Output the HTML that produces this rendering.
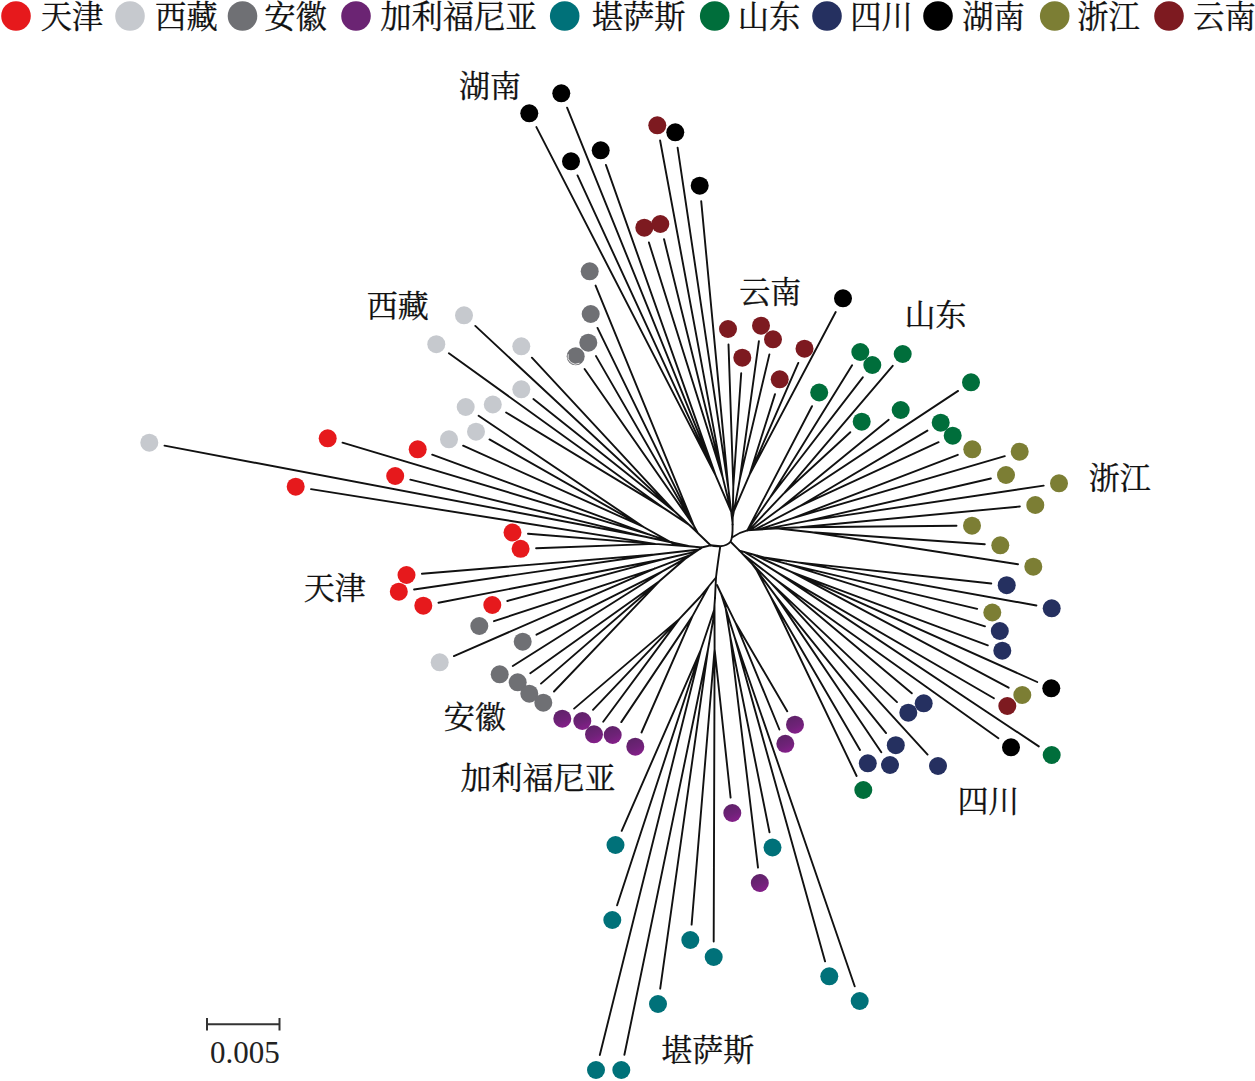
<!DOCTYPE html>
<html><head><meta charset="utf-8"><title>Phylogenetic tree</title>
<style>html,body{margin:0;padding:0;background:#fff;}body{width:1255px;height:1081px;overflow:hidden;font-family:"Liberation Serif",serif;}svg{display:block}</style>
</head><body>
<svg width="1255" height="1081" viewBox="0 0 1255 1081">
<rect width="1255" height="1081" fill="#fff"/>
<g fill="none" stroke="#111" stroke-width="1.9" stroke-linecap="round" stroke-linejoin="round"><path d="M732.2 514.0L715.6 475.4M715.6 475.4L536.4 127.1M715.6 475.4L577.5 175.4M715.6 475.4L567.1 107.7M715.6 475.4L605.9 164.9M732.3 516.1L722.7 477.3M722.7 477.3L648.9 242.5M722.7 477.3L664.0 239.1M722.7 477.3L660.1 140.5M732.5 522.4L728.4 488.7M728.4 488.7L677.6 147.6M728.4 488.7L701.2 201.1M732.6 524.5L733.3 486.5M733.3 486.5L728.5 344.5M733.3 486.5L741.2 373.2M732.4 519.2L739.7 479.9M739.7 479.9L758.9 341.1M739.7 479.9L769.4 354.4M732.2 515.0L749.6 474.6M749.6 474.6L775.0 394.1M749.6 474.6L798.3 362.9M749.6 474.6L835.7 312.0M732.6 524.5L732.2 514.0M764.0 557.5L797.6 562.4M797.6 562.4L991.3 583.5M797.6 562.4L1036.4 605.5M757.9 555.8L786.8 563.8M786.8 563.8L977.2 608.9M786.8 563.8L985.0 626.3M751.8 554.0L791.9 572.1M791.9 572.1L987.8 645.3M791.9 572.1L1037.2 682.0M791.9 572.1L1008.6 687.7M744.4 552.0L778.4 573.1M778.4 573.1L993.9 698.2M778.4 573.1L1038.8 746.4M742.6 553.9L777.4 580.8M777.4 580.8L998.4 738.3M777.4 580.8L911.8 693.3M747.2 558.8L771.1 583.1M771.1 583.1L897.0 702.1M771.1 583.1L927.6 754.6M751.9 563.7L775.7 595.9M775.7 595.9L886.1 733.1M775.7 595.9L881.3 752.2M755.0 567.0L770.9 597.0M770.9 597.0L860.0 749.9M770.9 597.0L856.6 776.0M739.5 550.6L764.0 557.5M739.5 550.6L755.0 567.0M690.0 525.5L665.0 508.9M665.0 508.9L506.1 412.5M665.0 508.9L448.9 353.3M694.1 529.5L675.0 511.8M675.0 511.8L533.4 399.0M675.0 511.8L475.3 325.9M675.0 511.8L531.9 357.7M697.8 533.0L694.0 526.0M694.0 526.0L584.6 369.0M694.0 526.0L596.0 356.1M694.0 526.0L597.5 327.9M694.0 526.0L595.6 285.6M710.5 545.3L690.0 525.5M685.0 559.0L659.3 581.3M659.3 581.3L554.0 691.5M659.3 581.3L541.0 683.6M659.3 581.3L530.3 673.3M688.1 556.9L662.0 571.7M662.0 571.7L512.8 666.0M662.0 571.7L536.5 634.7M692.0 554.3L654.6 568.6M654.6 568.6L453.9 656.1M654.6 568.6L494.0 621.2M695.9 551.6L662.7 559.3M662.7 559.3L507.3 601.0M662.7 559.3L438.5 602.7M699.0 549.5L655.2 554.5M655.2 554.5L414.1 589.5M655.2 554.5L421.9 573.7M700.5 548.5L685.0 559.0M695.0 546.8L655.1 543.9M655.1 543.9L536.1 548.2M655.1 543.9L528.0 533.7M655.1 543.9L311.0 489.1M688.3 546.0L645.3 536.8M645.3 536.8L164.5 445.6M645.3 536.8L410.3 479.7M681.6 545.3L649.4 534.6M649.4 534.6L342.5 442.7M649.4 534.6L432.2 454.7M675.0 544.6L643.6 527.0M643.6 527.0L463.1 445.7M643.6 527.0L489.5 439.4M643.6 527.0L478.6 415.7M701.6 547.5L675.0 544.6M708.8 586.3L692.5 616.1M692.5 616.1L641.5 732.5M692.5 616.1L621.3 722.1M700.0 597.0L679.4 618.9M679.4 618.9L603.2 721.8M679.4 618.9L593.0 709.8M679.4 618.9L574.1 708.6M716.0 577.5L700.0 597.0M714.5 605.0L714.6 649.0M714.6 649.0L730.6 797.6M714.6 649.0L713.7 941.5M714.6 649.0L691.6 924.6M713.5 618.0L708.0 649.5M708.0 649.5L660.2 988.7M708.0 649.5L624.4 1054.8M714.1 610.0L700.8 649.8M700.8 649.8L599.8 1055.0M700.8 649.8L617.1 905.3M700.8 649.8L621.7 830.8M715.0 598.0L713.5 618.0M718.1 587.4L735.8 623.3M735.8 623.3L787.2 711.3M735.8 623.3L779.4 729.5M721.1 593.8L734.8 637.7M734.8 637.7L854.7 986.3M734.8 637.7L825.1 961.4M724.5 601.0L730.2 636.5M730.2 636.5L769.5 832.3M730.2 636.5L758.0 867.6M717.0 585.0L724.5 601.0M747.3 530.4L812.0 406.2M747.3 530.4L770.1 497.5M770.1 497.5L852.1 365.2M770.1 497.5L862.8 377.3M748.7 530.3L784.6 492.7M784.6 492.7L892.7 365.8M784.6 492.7L850.3 432.2M750.7 530.1L779.8 508.8M779.8 508.8L888.7 419.8M779.8 508.8L958.1 390.9M754.5 529.9L798.8 506.7M798.8 506.7L927.4 430.6M798.8 506.7L938.6 442.2M758.8 529.6L792.9 518.1M792.9 518.1L957.8 454.8M792.9 518.1L1004.8 456.1M764.5 529.1L807.7 520.9M807.7 520.9L990.9 478.5M807.7 520.9L1043.7 485.6M770.3 528.7L800.2 527.2M800.2 527.2L1019.9 506.5M800.2 527.2L956.5 525.8M776.0 528.3L811.8 532.3M811.8 532.3L984.8 544.2M811.8 532.3L1018.0 564.3M747.3 530.4L776.0 528.3"/><path d="M710.5 545.3Q715 546.6 720.3 546.2Q727.5 545.8 730.6 541.5Q732.8 537.5 732.6 524.5M720.3 546.2L710.5 545.3L701.6 547.5L700.5 548.5M720.3 546.2Q717.5 565 716 577.5L715 598M730.6 541.8L739.5 550.6M732.4 537.2Q739 532.5 747.3 530.4"/></g>
<defs><linearGradient id="pg" x1="0.2" y1="0" x2="0.6" y2="1"><stop offset="0" stop-color="#5d2267"/><stop offset="0.6" stop-color="#6f2278"/><stop offset="1" stop-color="#851f8a"/></linearGradient></defs>
<g><circle cx="561.3" cy="93.3" r="9" fill="#000000"/><circle cx="529.3" cy="113.3" r="9" fill="#000000"/><circle cx="600.7" cy="150.3" r="9" fill="#000000"/><circle cx="571.0" cy="161.3" r="9" fill="#000000"/><circle cx="675.3" cy="132.3" r="9" fill="#000000"/><circle cx="699.7" cy="185.7" r="9" fill="#000000"/><circle cx="843.0" cy="298.3" r="9" fill="#000000"/><circle cx="1051.3" cy="688.3" r="9" fill="#000000"/><circle cx="1011.0" cy="747.3" r="9" fill="#000000"/><circle cx="657.3" cy="125.3" r="9" fill="#7d1a20"/><circle cx="644.3" cy="227.7" r="9" fill="#7d1a20"/><circle cx="660.3" cy="224.0" r="9" fill="#7d1a20"/><circle cx="728.0" cy="329.0" r="9" fill="#7d1a20"/><circle cx="761.0" cy="325.7" r="9" fill="#7d1a20"/><circle cx="773.0" cy="339.3" r="9" fill="#7d1a20"/><circle cx="742.3" cy="357.7" r="9" fill="#7d1a20"/><circle cx="804.5" cy="348.7" r="9" fill="#7d1a20"/><circle cx="779.7" cy="379.3" r="9" fill="#7d1a20"/><circle cx="1007.3" cy="706.0" r="9" fill="#7d1a20"/><circle cx="589.7" cy="271.3" r="9" fill="#6f7074"/><circle cx="590.7" cy="314.0" r="9" fill="#6f7074"/><circle cx="588.3" cy="342.7" r="9" fill="#6f7074"/><circle cx="575.7" cy="356.3" r="9" fill="#6f7074"/><circle cx="479.3" cy="626.0" r="9" fill="#6f7074"/><circle cx="522.7" cy="641.7" r="9" fill="#6f7074"/><circle cx="499.7" cy="674.3" r="9" fill="#6f7074"/><circle cx="517.7" cy="682.3" r="9" fill="#6f7074"/><circle cx="529.3" cy="693.7" r="9" fill="#6f7074"/><circle cx="543.3" cy="702.7" r="9" fill="#6f7074"/><circle cx="464.0" cy="315.3" r="9" fill="#c6c9ce"/><circle cx="436.3" cy="344.2" r="9" fill="#c6c9ce"/><circle cx="521.3" cy="346.3" r="9" fill="#c6c9ce"/><circle cx="521.3" cy="389.3" r="9" fill="#c6c9ce"/><circle cx="492.8" cy="404.5" r="9" fill="#c6c9ce"/><circle cx="465.7" cy="407.0" r="9" fill="#c6c9ce"/><circle cx="476.0" cy="431.7" r="9" fill="#c6c9ce"/><circle cx="449.0" cy="439.3" r="9" fill="#c6c9ce"/><circle cx="149.3" cy="442.7" r="9" fill="#c6c9ce"/><circle cx="439.7" cy="662.3" r="9" fill="#c6c9ce"/><circle cx="327.7" cy="438.3" r="9" fill="#e6191c"/><circle cx="417.7" cy="449.3" r="9" fill="#e6191c"/><circle cx="395.2" cy="476.0" r="9" fill="#e6191c"/><circle cx="295.7" cy="486.7" r="9" fill="#e6191c"/><circle cx="512.5" cy="532.5" r="9" fill="#e6191c"/><circle cx="520.6" cy="548.8" r="9" fill="#e6191c"/><circle cx="406.5" cy="575.0" r="9" fill="#e6191c"/><circle cx="398.8" cy="591.7" r="9" fill="#e6191c"/><circle cx="423.3" cy="605.7" r="9" fill="#e6191c"/><circle cx="492.3" cy="605.0" r="9" fill="#e6191c"/><circle cx="562.3" cy="718.7" r="9" fill="url(#pg)"/><circle cx="582.3" cy="721.0" r="9" fill="url(#pg)"/><circle cx="594.0" cy="734.3" r="9" fill="url(#pg)"/><circle cx="612.7" cy="735.0" r="9" fill="url(#pg)"/><circle cx="635.3" cy="746.7" r="9" fill="url(#pg)"/><circle cx="732.3" cy="813.0" r="9" fill="url(#pg)"/><circle cx="759.8" cy="883.0" r="9" fill="url(#pg)"/><circle cx="785.3" cy="743.8" r="9" fill="url(#pg)"/><circle cx="795.0" cy="724.7" r="9" fill="url(#pg)"/><circle cx="615.5" cy="845.0" r="9" fill="#007179"/><circle cx="612.3" cy="920.0" r="9" fill="#007179"/><circle cx="690.3" cy="940.0" r="9" fill="#007179"/><circle cx="713.7" cy="957.0" r="9" fill="#007179"/><circle cx="772.5" cy="847.5" r="9" fill="#007179"/><circle cx="829.3" cy="976.3" r="9" fill="#007179"/><circle cx="859.7" cy="1001.0" r="9" fill="#007179"/><circle cx="658.0" cy="1004.0" r="9" fill="#007179"/><circle cx="596.0" cy="1070.0" r="9" fill="#007179"/><circle cx="621.3" cy="1070.0" r="9" fill="#007179"/><circle cx="860.3" cy="352.0" r="9" fill="#006e3b"/><circle cx="872.3" cy="365.0" r="9" fill="#006e3b"/><circle cx="902.7" cy="354.0" r="9" fill="#006e3b"/><circle cx="819.2" cy="392.5" r="9" fill="#006e3b"/><circle cx="971.0" cy="382.3" r="9" fill="#006e3b"/><circle cx="900.7" cy="410.0" r="9" fill="#006e3b"/><circle cx="861.7" cy="421.7" r="9" fill="#006e3b"/><circle cx="940.7" cy="422.7" r="9" fill="#006e3b"/><circle cx="952.7" cy="435.7" r="9" fill="#006e3b"/><circle cx="1051.7" cy="755.0" r="9" fill="#006e3b"/><circle cx="863.3" cy="790.0" r="9" fill="#006e3b"/><circle cx="972.3" cy="449.3" r="9" fill="#7c7e34"/><circle cx="1019.7" cy="451.7" r="9" fill="#7c7e34"/><circle cx="1006.0" cy="475.0" r="9" fill="#7c7e34"/><circle cx="1059.0" cy="483.3" r="9" fill="#7c7e34"/><circle cx="1035.3" cy="505.0" r="9" fill="#7c7e34"/><circle cx="972.0" cy="525.7" r="9" fill="#7c7e34"/><circle cx="1000.3" cy="545.3" r="9" fill="#7c7e34"/><circle cx="1033.3" cy="566.7" r="9" fill="#7c7e34"/><circle cx="992.3" cy="612.5" r="9" fill="#7c7e34"/><circle cx="1022.3" cy="695.0" r="9" fill="#7c7e34"/><circle cx="1006.7" cy="585.2" r="9" fill="#253060"/><circle cx="1051.7" cy="608.3" r="9" fill="#253060"/><circle cx="999.8" cy="631.0" r="9" fill="#253060"/><circle cx="1002.3" cy="650.7" r="9" fill="#253060"/><circle cx="923.7" cy="703.3" r="9" fill="#253060"/><circle cx="908.3" cy="712.7" r="9" fill="#253060"/><circle cx="895.8" cy="745.2" r="9" fill="#253060"/><circle cx="867.8" cy="763.3" r="9" fill="#253060"/><circle cx="890.0" cy="765.0" r="9" fill="#253060"/><circle cx="938.0" cy="766.0" r="9" fill="#253060"/><path d="M579.5 363.2A7.8 7.8 0 0 1 568.2 354.2" fill="none" stroke="#f4f4f4" stroke-width="0.9"/></g>
<g fill="#111" stroke="#111" stroke-width="0.3" font-family="&quot;Liberation Serif&quot;, &quot;Noto Serif CJK SC&quot;, serif"><circle cx="16" cy="16" r="14.8" fill="#e6191c" stroke="none"/><text x="40.67" y="28.18" font-size="31.3">天津</text><circle cx="130" cy="16" r="14.8" fill="#c6c9ce" stroke="none"/><text x="155.12" y="28.26" font-size="31.3">西藏</text><circle cx="242.5" cy="16" r="14.8" fill="#6f7074" stroke="none"/><text x="264.21" y="28.34" font-size="31.3">安徽</text><circle cx="356" cy="16" r="14.8" fill="#6b2473" stroke="none"/><text x="380.19" y="28.29" font-size="31.3">加利福尼亚</text><circle cx="564.7" cy="16" r="14.8" fill="#007179" stroke="none"/><text x="591.74" y="28.26" font-size="31.3">堪萨斯</text><circle cx="714.7" cy="16" r="14.8" fill="#006e3b" stroke="none"/><text x="737.64" y="28.33" font-size="31.3">山东</text><circle cx="827" cy="16" r="14.8" fill="#253060" stroke="none"/><text x="850.23" y="27.56" font-size="31.3">四川</text><circle cx="938" cy="16" r="14.8" fill="#000000" stroke="none"/><text x="962.25" y="28.31" font-size="31.3">湖南</text><circle cx="1054.7" cy="16" r="14.8" fill="#7c7e34" stroke="none"/><text x="1077.32" y="28.29" font-size="31.3">浙江</text><circle cx="1169" cy="16" r="14.8" fill="#7d1a20" stroke="none"/><text x="1193.13" y="28.31" font-size="31.3">云南</text><text x="458.90" y="97.30" font-size="31">湖南</text><text x="739.28" y="303.30" font-size="31">云南</text><text x="366.72" y="316.75" font-size="31">西藏</text><text x="303.72" y="599.17" font-size="31">天津</text><text x="443.66" y="728.18" font-size="31">安徽</text><text x="460.54" y="788.98" font-size="31">加利福尼亚</text><text x="661.35" y="1061.10" font-size="31">堪萨斯</text><text x="904.40" y="325.96" font-size="31">山东</text><text x="1088.77" y="489.28" font-size="31">浙江</text><text x="957.38" y="812.30" font-size="31">四川</text></g>
<g stroke="#333" stroke-width="2" fill="none"><path d="M207 1024.2H279.5M207 1018V1030.5M279.5 1018V1030.5"/></g>
<text x="210" y="1063.3" font-family="Liberation Serif, serif" font-size="31" fill="#222">0.005</text>
</svg>
</body></html>
